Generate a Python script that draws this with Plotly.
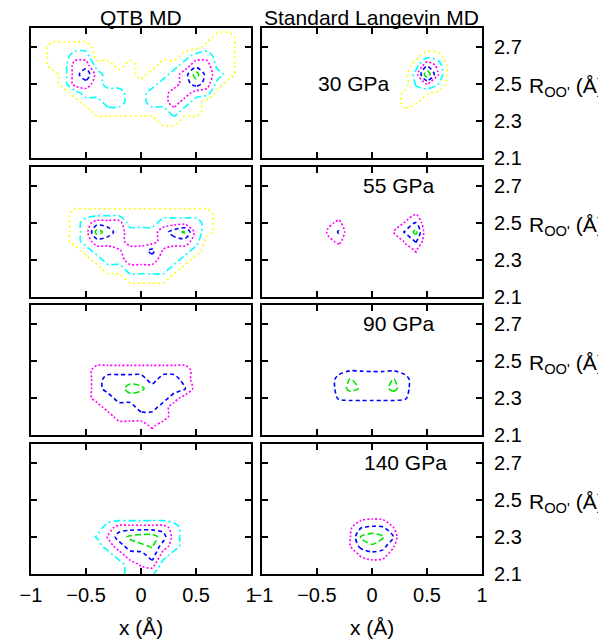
import plotly.graph_objects as go

# ---------------- data ----------------
X_GRID = [-1.0, -0.9, -0.8, -0.7, -0.6, -0.5, -0.4, -0.3, -0.2, -0.1, 0.0,
          0.1, 0.2, 0.3, 0.4, 0.5, 0.6, 0.7, 0.8, 0.9, 1.0]
# rows of every grid below are listed from top (2.80) to bottom (2.10)
Y_GRID = [2.8, 2.75, 2.7, 2.65, 2.6, 2.55, 2.5, 2.45, 2.4, 2.35, 2.3, 2.25, 2.2, 2.15, 2.1]

LEVELS = [0.5, 1.5, 2.5, 3.5, 4.5]
LEVEL_COLORS = ["#FFFF00", "#00FFFF", "#FF00FF", "#0000FF", "#00E600"]
LEVEL_DASH = ["2px,3px", "7px,3px,2px,3px", "2px,2px", "4px,3px", "6px,3px"]

Z0 = "0 0 0 0 0 0 0 0 0 0 0 0 0 0 0 0 0 0 0 0 0"
Z1 = "1 1 1 1 1 1 1 1 1 1 1 1 1 1 1 1 1 1 1 1 1"
Z2 = "2 2 2 2 2 2 2 2 2 2 2 2 2 2 2 2 2 2 2 2 2"
Z3 = "3 3 3 3 3 3 3 3 3 3 3 3 3 3 3 3 3 3 3 3 3"

QTB_30 = [
    Z0,
    "0 0 0 0 0 0 0 0 0 0 0 0 0 0 0 0 0 1 1 0 0",
    "0 0 1 1 1 1 0 0 0 0 0 0 0 0 0 0 1 1 1 0 0",
    "0 0 1 1 2 2 0 0 0 0 0 0 0 0 1 2 2 1 1 0 0",
    "0 0 1 1 3 3 1 1 0 1 0 0 1 1 2 3 3 1 1 0 0",
    "0 0 0 1 3 4.3 2 1 1 1 0 1 1 2 3 5 3 2 1 0 0",
    "0 0 0 1 3 3 2 1 1 1 1 1 2 2 3 4 3 1 0 0 0",
    "0 0 0 0 1 2 2 2 2 1 1 2 2 3 3 2 2 0 0 0 0",
    "0 0 0 0 0 1 1 2 2 1 1 2 2 3 2 1 0 0 0 0 0",
    "0 0 0 0 0 0 1 1 1 1 1 1 1 2 1 1 0 0 0 0 0",
    "0 0 0 0 0 0 0 0 0 0 0 0 1 1 0 0 0 0 0 0 0",
    Z0, Z0, Z0, Z0,
]
LANG_30 = [
    Z0, Z0, Z0,
    "0 0 0 0 0 0 0 0 0 0 0 0 0 0 0.2 1.0 0.8 0 0 0 0",
    "0 0 0 0 0 0 0 0 0 0 0 0 0 0 0.9 3.3 2.2 0 0 0 0",
    "0 0 0 0 0 0 0 0 0 0 0 0 0 0 2.0 5.3 2.6 0 0 0 0",
    "0 0 0 0 0 0 0 0 0 0 0 0 0 0 1.6 2.6 1.6 0 0 0 0",
    "0 0 0 0 0 0 0 0 0 0 0 0 0 0.7 1.2 0.6 0.3 0 0 0 0",
    "0 0 0 0 0 0 0 0 0 0 0 0 0 0.8 0.6 0 0 0 0 0 0",
    "0 0 0 0 0 0 0 0 0 0 0 0 0 0.3 0 0 0 0 0 0 0",
    Z0, Z0, Z0, Z0, Z0,
]
QTB_55 = [
    Z0, Z0, Z0, Z0, Z0,
    "0 0 0 0 1 1 1 1 1 1 1 1 1 1 1 1 1 0 0 0 0",
    "0 0 0 0 1 2 3 3 3 1 1 1 2 2 2 2 1 0 0 0 0",
    "0 0 0 0 1 2 5 4 3 2 2 2 3 4 4.7 2 1 0 0 0 0",
    "0 0 0 0 1 2 3 3 3 2 2 2 3 3 3 2 0 0 0 0 0",
    "0 0 0 0 0 1 2 2 2.4 3 3 3.8 2.4 2 2 1 0 0 0 0 0",
    "0 0 0 0 0 0 1 2 2 3 3 3 2 2 1 0 0 0 0 0 0",
    "0 0 0 0 0 0 0 1 1 2 2 2 2 1 0 0 0 0 0 0 0",
    "0 0 0 0 0 0 0 0 0 1 1 1 1 0 0 0 0 0 0 0 0",
    Z0, Z0,
]
LANG_55 = [
    Z0, Z0, Z0, Z0, Z0,
    "0 0 0 0 0 0 0 1.5 0 0 0 0 0 1.5 2.38 0 0 0 0 0 0",
    "0 0 0 0 0 0 2.0 2.9 1.0 0 0 0 1.5 2.6 3.55 1.5 0 0 0 0 0",
    "0 0 0 0 0 0 2.8 3.6 1.5 0 0 0.6 2.6 3.6 4.8 1.5 0 0 0 0 0",
    "0 0 0 0 0 0 2.0 2.9 1.0 0 0 0 1.2 2.7 3.6 1.7 0 0 0 0 0",
    "0 0 0 0 0 0 0 1.5 0 0 0 0 0 1.8 2.6 0 0 0 0 0 0",
    "0 0 0 0 0 0 0 0 0 0 0 0 0 0 2.1 0 0 0 0 0 0",
    Z0, Z0, Z0, Z0,
]
QTB_90 = [
    Z2, Z2, Z2, Z2, Z2, Z2, Z2,
    "2 2 2 2 2 2 3 3 3 3 3 3 3 3 3 2 2 2 2 2 2",
    "2 2 2 2 2 2 3 4 4 4 4 3 4 4 3 2 2 2 2 2 2",
    "2 2 2 2 2 2 3 4 4 5 4.7 4 4 4 3.6 2 2 2 2 2 2",
    "2 2 2 2 2 2 3 3 4 4 4 4 4 3 2 2 2 2 2 2 2",
    "2 2 2 2 2 2 2 3 3 3 4 4 3 2 2 2 2 2 2 2 2",
    "2 2 2 2 2 2 2 2 3 3 3 3 3 2 2 2 2 2 2 2 2",
    "2 2 2 2 2 2 2 2 2 2 2 2.7 2 2 2 2 2 2 2 2 2",
    Z2,
]
LANG_90 = [
    Z3, Z3, Z3, Z3, Z3, Z3, Z3,
    "3 3 3 3 3 3 3 3.2 3.4 3.4 3.4 3.4 3.4 3.2 3 3 3 3 3 3 3",
    "3 3 3 3 3 3 3 3.8 4.55 4.2 4.0 4.0 4.55 3.8 3 3 3 3 3 3 3",
    "3 3 3 3 3 3 3 3.8 4.8 4.4 4.0 4.2 4.8 3.8 3 3 3 3 3 3 3",
    "3 3 3 3 3 3 3 3.6 3.7 3.7 3.7 3.7 3.7 3.6 3 3 3 3 3 3 3",
    Z3, Z3, Z3, Z3,
]
QTB_140 = [
    Z1, Z1, Z1, Z1, Z1, Z1, Z1, Z1, Z1,
    "1 1 1 1 1 1 1 2 3 3 3 3 3 2 1 1 1 1 1 1 1",
    "1 1 1 1 1 1 1.6 2.6 4 4.7 5 5 4 2 1 1 1 1 1 1 1",
    "1 1 1 1 1 1 1 2 3 4 4.3 4.6 3 2 1 1 1 1 1 1 1",
    "1 1 1 1 1 1 1 1 2 3 3 4 2 1 1 1 1 1 1 1 1",
    "1 1 1 1 1 1 1 1 1 2 2.6 3 1 1 1 1 1 1 1 1 1",
    "1 1 1 1 1 1 1 1 1 2 2 1.6 1 1 1 1 1 1 1 1 1",
]
LANG_140 = [
    Z0, Z0, Z0, Z0, Z0, Z0, Z0, Z0,
    "0 0 0 0 0 0 0 0 0 2.2 2.4 2.3 0 0 0 0 0 0 0 0 0",
    "0 0 0 0 0 0 0 0 2.3 3.45 3.68 3.6 2.45 0 0 0 0 0 0 0 0",
    "0 0 0 0 0 0 0 1.0 2.4 4.6 5.0 4.6 3.44 0 0 0 0 0 0 0 0",
    "0 0 0 0 0 0 0 0 2.45 3.8 4.38 3.9 2.55 0 0 0 0 0 0 0 0",
    "0 0 0 0 0 0 0 0 1.8 2.6 2.96 2.9 1.8 0 0 0 0 0 0 0 0",
    "0 0 0 0 0 0 0 0 0 2.0 2.0 1.8 0 0 0 0 0 0 0 0 0",
    Z0,
]

# (grid, contour levels drawn) in row-major order: (QTB, Langevin) per pressure
PANELS = [
    (QTB_30, [0, 1, 2, 3, 4]), (LANG_30, [0, 1, 2, 3, 4]),
    (QTB_55, [0, 1, 2, 3, 4]), (LANG_55, [2, 3, 4]),
    (QTB_90, [2, 3, 4]), (LANG_90, [3, 4]),
    (QTB_140, [1, 2, 3, 4]), (LANG_140, [2, 3, 4]),
]
PRESSURES = ["30 GPa", "55 GPa", "90 GPa", "140 GPa"]
PRESSURE_POS = [(-0.51, 2.5), (-0.095, 2.7), (-0.095, 2.7), (-0.09, 2.7)]
COLUMN_TITLES = ["QTB MD", "Standard Langevin MD"]
X_TICKS = [-1, -0.5, 0, 0.5, 1]
Y_TICKS = [2.1, 2.3, 2.5, 2.7]
X_RANGE = [-1, 1]
Y_RANGE = [2.1, 2.8]

# ---------------- layout geometry (page pixels) ----------------
W, H = 606, 640
OFF = 8                      # default body margin of the html page
ROW_TOPS = [28, 167, 305, 444]
ROW_H = 130
COL_LEFTS = [23, 258]
COL_W = 224
ML = COL_LEFTS[0] - OFF
MT = ROW_TOPS[0] - OFF
MR = W - (COL_LEFTS[1] + COL_W - OFF)
MB = H - (ROW_TOPS[3] + ROW_H - OFF)
PW, PH = W - ML - MR, H - MT - MB

FONT = "Liberation Sans, Arial, Helvetica, sans-serif"


def px_x(px):
    return (px - OFF - ML) / PW


def px_y(py):
    return (H - MB - (py - OFF)) / PH


Y_ASC = Y_GRID[::-1]

fig = go.Figure()
layout = dict(
    width=W, height=H,
    margin=dict(l=ML, r=MR, t=MT, b=MB, pad=0),
    paper_bgcolor="white", plot_bgcolor="white",
    showlegend=False,
    font=dict(family=FONT, size=20, color="black"),
)
annotations = []

for k, (grid, shown) in enumerate(PANELS):
    r, c = divmod(k, 2)
    n = k + 1
    xn = "x" if n == 1 else f"x{n}"
    yn = "y" if n == 1 else f"y{n}"
    z = [[float(t) for t in row.split()] for row in grid][::-1]
    for li in shown:
        fig.add_trace(go.Contour(
            x=X_GRID, y=Y_ASC, z=z, xaxis=xn, yaxis=yn,
            autocontour=False,
            contours=dict(start=LEVELS[li], end=LEVELS[li], size=1,
                          coloring="none", showlabels=False),
            line=dict(color=LEVEL_COLORS[li], width=1.6, dash=LEVEL_DASH[li],
                      smoothing=0.8),
            showscale=False, hoverinfo="skip",
        ))
    x0 = px_x(COL_LEFTS[c])
    x1 = px_x(COL_LEFTS[c] + COL_W)
    y1 = px_y(ROW_TOPS[r])
    y0 = px_y(ROW_TOPS[r] + ROW_H)
    axis_common = dict(showline=True, linewidth=2, linecolor="black",
                       mirror="ticks", ticks="inside", ticklen=6, tickwidth=2,
                       tickcolor="black", showgrid=False, zeroline=False,
                       tickfont=dict(family=FONT, size=20, color="black"))
    layout["xaxis" if n == 1 else f"xaxis{n}"] = dict(
        domain=[max(0, x0), min(1, x1)], range=X_RANGE, tickvals=X_TICKS,
        anchor=yn, showticklabels=(r == 3), ticklabelstandoff=2, **axis_common)
    layout["yaxis" if n == 1 else f"yaxis{n}"] = dict(
        domain=[max(0, y0), min(1, y1)], range=Y_RANGE, tickvals=Y_TICKS,
        anchor=xn, side="right", showticklabels=(c == 1), ticklabelstandoff=6,
        **axis_common)
    if c == 1:
        px_, py_ = PRESSURE_POS[r]
        annotations.append(dict(text=PRESSURES[r], x=px_, y=py_, xref=xn, yref=yn,
                                xanchor="left", yanchor="middle", showarrow=False,
                                font=dict(family=FONT, size=21, color="black")))
        annotations.append(dict(text="R<sub>OO'</sub> (Å)", x=px_x(528), y=2.48,
                                xref="paper", yref=yn, xanchor="left", yanchor="middle",
                                showarrow=False,
                                font=dict(family=FONT, size=21, color="black")))

for c, title in enumerate(COLUMN_TITLES):
    cx = px_x(COL_LEFTS[c] + COL_W / 2)
    annotations.append(dict(text=title, x=cx, y=px_y(17), xref="paper", yref="paper",
                            xanchor="center", yanchor="middle", showarrow=False,
                            font=dict(family=FONT, size=21, color="black")))
    annotations.append(dict(text="x (Å)", x=cx, y=px_y(627), xref="paper", yref="paper",
                            xanchor="center", yanchor="middle", showarrow=False,
                            font=dict(family=FONT, size=21, color="black")))

layout["annotations"] = annotations
fig.update_layout(**layout)
fig.write_html("out.html")
